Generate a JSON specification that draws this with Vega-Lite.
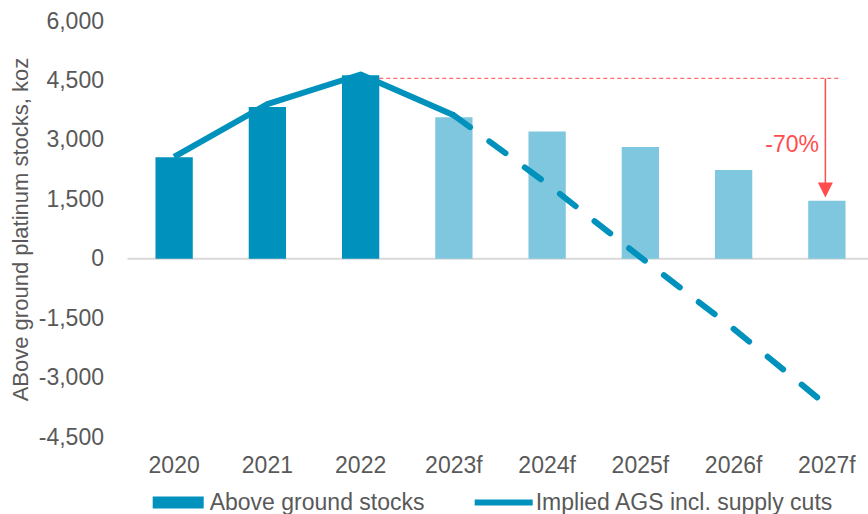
{
  "$schema": "https://vega.github.io/schema/vega-lite/v6.json",
  "autosize": {"type": "none"},
  "padding": {"left": 127.5, "top": 21, "right": 0, "bottom": 77},
  "width": 746,
  "height": 416,
  "background": "white",
  "config": {
    "font": "Liberation Sans",
    "view": {"stroke": null},
    "axis": {"labelFont": "Liberation Sans", "titleFont": "Liberation Sans"},
    "legend": {"labelFont": "Liberation Sans"}
  },
  "datasets": {
    "stocks": [
      {"year": "2020", "stocks": 2560, "implied": 2570, "series": "Above ground stocks"},
      {"year": "2021", "stocks": 3830, "implied": 3900, "series": "Above ground stocks"},
      {"year": "2022", "stocks": 4630, "implied": 4650, "series": "Above ground stocks"},
      {"year": "2023f", "stocks": 3570, "implied": 3620, "series": "Forecast above ground stocks"},
      {"year": "2024f", "stocks": 3210, "implied": 1890, "series": "Forecast above ground stocks"},
      {"year": "2025f", "stocks": 2820, "implied": 40, "series": "Forecast above ground stocks"},
      {"year": "2026f", "stocks": 2240, "implied": -1770, "series": "Forecast above ground stocks"},
      {"year": "2027f", "stocks": 1460, "implied": -3700, "series": "Forecast above ground stocks"}
    ],
    "annotation": [
      {"from": "2022", "to": "2027f", "peak": 4550, "arrowEnd": 1910, "head": 1737, "label": "-70%", "labelValue": 2870}
    ]
  },
  "layer": [
    {
      "data": {"values": [{"baseline": 0}]},
      "mark": {"type": "rule", "color": "#D9D9D9", "strokeWidth": 2},
      "encoding": {"y": {"field": "baseline", "type": "quantitative", "title": "ABove ground platinum stocks, koz"}}
    },
    {
      "data": {"name": "stocks"},
      "mark": {"type": "bar"},
      "encoding": {
        "x": {
          "field": "year", "type": "ordinal", "title": null,
          "sort": ["2020", "2021", "2022", "2023f", "2024f", "2025f", "2026f", "2027f"],
          "scale": {"paddingInner": 0.6, "paddingOuter": 0.3},
          "axis": {"title": null, "orient": "bottom", "domain": false, "ticks": false, "labelAngle": 0, "labelFontSize": 23, "labelColor": "#595959", "labelPadding": 17}
        },
        "y": {
          "field": "stocks", "type": "quantitative", "title": "ABove ground platinum stocks, koz",
          "scale": {"domain": [-4500, 6000], "nice": false, "zero": false},
          "axis": {
            "title": "ABove ground platinum stocks, koz",
            "values": [-4500, -3000, -1500, 0, 1500, 3000, 4500, 6000],
            "grid": false, "domain": false, "ticks": false,
            "labelFontSize": 23, "labelColor": "#595959", "labelPadding": 24,
            "labelExpr": "replace(format(datum.value, ','), '\u2212', '-')",
            "titleFontSize": 22, "titleColor": "#595959", "titleFontWeight": "normal", "titlePadding": 6
          }
        },
        "color": {
          "field": "series", "type": "nominal",
          "scale": {
            "domain": ["Above ground stocks", "Forecast above ground stocks", "Implied AGS incl. supply cuts"],
            "range": ["#0092BC", "#7FC7DE", "#0092BC"]
          },
          "legend": {
            "title": null,
            "values": ["Above ground stocks", "Implied AGS incl. supply cuts"],
            "orient": "none", "legendX": 21.2, "legendY": 452.5,
            "direction": "horizontal", "padding": 0,
            "symbolSize": 3364, "symbolStrokeWidth": 0, "symbolOpacity": 1,
            "labelFontSize": 23, "labelColor": "#595959", "labelOffset": 3, "labelLimit": 400,
            "columnPadding": 50,
            "encode": {
              "symbols": {
                "update": {
                  "shape": {"signal": "datum.value === 'Above ground stocks' ? 'M-0.862,-0.207H0.897V0.207H-0.862Z' : 'M-1,-0.103H1V0.103H-1Z'"},
                  "fill": {"value": "#0092BC"},
                  "stroke": {"value": "transparent"},
                  "strokeWidth": {"value": 0},
                  "opacity": {"value": 1}
                }
              }
            }
          }
        }
      }
    },
    {
      "data": {"name": "stocks"},
      "transform": [{"filter": {"field": "year", "oneOf": ["2020", "2021", "2022", "2023f"]}}],
      "mark": {"type": "line", "strokeWidth": 6, "strokeJoin": "round"},
      "encoding": {
        "x": {"field": "year", "type": "ordinal", "title": null},
        "y": {"field": "implied", "type": "quantitative", "title": "ABove ground platinum stocks, koz"},
        "color": {"datum": "Implied AGS incl. supply cuts"}
      }
    },
    {
      "data": {"name": "stocks"},
      "transform": [{"filter": {"field": "year", "oneOf": ["2023f", "2024f", "2025f", "2026f", "2027f"]}}],
      "mark": {"type": "line", "strokeWidth": 6, "strokeCap": "round", "strokeDash": [20, 24]},
      "encoding": {
        "x": {"field": "year", "type": "ordinal", "title": null},
        "y": {"field": "implied", "type": "quantitative", "title": "ABove ground platinum stocks, koz"},
        "color": {"datum": "Implied AGS incl. supply cuts"}
      }
    },
    {
      "data": {"name": "annotation"},
      "mark": {"type": "rule", "color": "#FF6B6B", "strokeWidth": 1.3, "strokeDash": [4, 3]},
      "encoding": {
        "x": {"field": "from", "type": "ordinal", "bandPosition": 1.0, "title": null},
        "x2": {"field": "to", "bandPosition": 0.84},
        "y": {"field": "peak", "type": "quantitative", "title": "ABove ground platinum stocks, koz"}
      }
    },
    {
      "data": {"name": "annotation"},
      "mark": {"type": "rule", "color": "#FF4D4D", "strokeWidth": 1.5},
      "encoding": {
        "x": {"field": "to", "type": "ordinal", "bandPosition": 0.46, "title": null},
        "y": {"field": "peak", "type": "quantitative", "title": "ABove ground platinum stocks, koz"},
        "y2": {"field": "arrowEnd"}
      }
    },
    {
      "data": {"name": "annotation"},
      "mark": {"type": "point", "shape": "M-1,-1L1,-1L0,1Z", "size": 225, "filled": true, "color": "#FF4D4D", "opacity": 1, "strokeWidth": 0},
      "encoding": {
        "x": {"field": "to", "type": "ordinal", "bandPosition": 0.46, "title": null},
        "y": {"field": "head", "type": "quantitative", "title": "ABove ground platinum stocks, koz"}
      }
    },
    {
      "data": {"name": "annotation"},
      "mark": {"type": "text", "fontSize": 23, "color": "#FF4D4D", "align": "center", "baseline": "middle"},
      "encoding": {
        "x": {"field": "to", "type": "ordinal", "bandPosition": -0.43, "title": null},
        "y": {"field": "labelValue", "type": "quantitative", "title": "ABove ground platinum stocks, koz"},
        "text": {"field": "label"}
      }
    }
  ]
}
